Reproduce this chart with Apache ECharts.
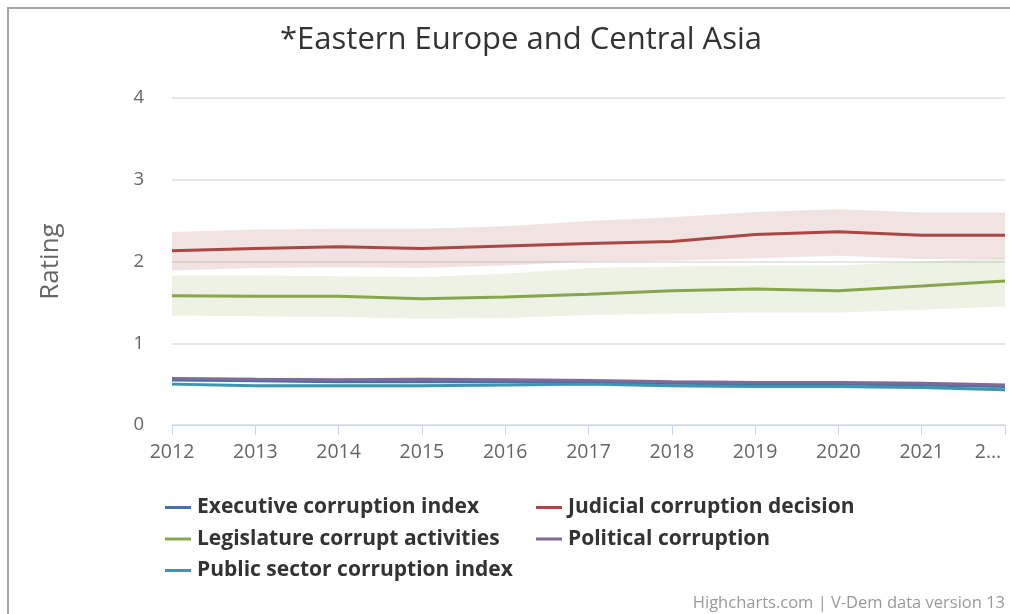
<!DOCTYPE html>
<html>
<head>
<meta charset="utf-8">
<script src="https://cdn.jsdelivr.net/npm/echarts@6/dist/echarts.min.js"></script>
<style>
  html, body { margin: 0; padding: 0; background: #fff; }
  #chart { width: 1010px; height: 614px; }
</style>
</head>
<body>
<div id="chart"></div>
<script>
// Years on the x axis and the labels shown under each tick
const years = ['2012','2013','2014','2015','2016','2017','2018','2019','2020','2021','2022'];
const tickLabels = ['2012','2013','2014','2015','2016','2017','2018','2019','2020','2021','2…'];
const yTicks = [0, 1, 2, 3, 4];

// Regional mean ratings
const executive   = [0.55, 0.54, 0.53, 0.53, 0.53, 0.52, 0.51, 0.50, 0.50, 0.49, 0.47];
const judicial    = [2.13, 2.16, 2.18, 2.16, 2.19, 2.22, 2.245, 2.33, 2.365, 2.32, 2.32];
const legislature = [1.58, 1.575, 1.575, 1.545, 1.566, 1.60, 1.643, 1.664, 1.643, 1.70, 1.76];
const political   = [0.57, 0.56, 0.555, 0.56, 0.555, 0.545, 0.53, 0.52, 0.52, 0.51, 0.49];
const publicSec   = [0.50, 0.48, 0.48, 0.48, 0.49, 0.50, 0.48, 0.47, 0.47, 0.46, 0.43];

// Uncertainty bands (low / high)
const judicialLow  = [1.89, 1.92, 1.93, 1.92, 1.95, 2.00, 2.01, 2.04, 2.07, 2.03, 2.03];
const judicialHigh = [2.36, 2.39, 2.40, 2.40, 2.43, 2.495, 2.54, 2.605, 2.64, 2.60, 2.60];
const legisLow     = [1.34, 1.33, 1.32, 1.30, 1.31, 1.345, 1.365, 1.375, 1.375, 1.41, 1.45];
const legisHigh    = [1.83, 1.83, 1.82, 1.81, 1.85, 1.92, 1.94, 1.95, 1.95, 2.00, 2.05];
const politicalLow  = [0.55, 0.54, 0.535, 0.54, 0.535, 0.525, 0.51, 0.50, 0.50, 0.49, 0.47];
const politicalHigh = [0.59, 0.58, 0.575, 0.58, 0.575, 0.565, 0.55, 0.54, 0.54, 0.53, 0.51];
const publicLow     = [0.48, 0.46, 0.46, 0.46, 0.47, 0.48, 0.46, 0.45, 0.45, 0.44, 0.41];
const publicHigh    = [0.52, 0.50, 0.50, 0.50, 0.51, 0.52, 0.50, 0.49, 0.49, 0.48, 0.45];

const names = {
  exec: 'Executive corruption index',
  jud: 'Judicial corruption decision',
  leg: 'Legislature corrupt activities',
  pol: 'Political corruption',
  pub: 'Public sector corruption index'
};
const colors = {
  exec: '#4572A7', jud: '#AA4643', leg: '#89A54E', pol: '#80699B', pub: '#3D96AE'
};

const FONT = '"Open Sans", "Noto Sans", sans-serif';

function band(key, low, high, rgba) {
  const diff = high.map((h, i) => +(h - low[i]).toFixed(4));
  return [
    {
      name: key + '-low', type: 'line', stack: key + '-band', data: low,
      showSymbol: false, silent: true, lineStyle: { opacity: 0 }, z: 1
    },
    {
      name: key + '-range', type: 'line', stack: key + '-band', data: diff,
      showSymbol: false, silent: true, lineStyle: { opacity: 0 },
      areaStyle: { color: rgba, opacity: 1 }, z: 1
    }
  ];
}

function line(key, data) {
  return {
    name: names[key], type: 'line', data: data, showSymbol: false,
    color: colors[key], lineStyle: { width: 3, color: colors[key] }, z: 3
  };
}

const legendText = { fontFamily: FONT, fontSize: 21, fontWeight: 'bold', color: '#333', padding: [0, 0, 0, 1] };

const chart = echarts.init(document.getElementById('chart'), null, { renderer: 'canvas' });
chart.setOption({
  animation: false,
  backgroundColor: '#fff',
  title: {
    text: '*Eastern Europe and Central Asia',
    left: 516, textAlign: 'center', top: 20,
    textStyle: { fontFamily: FONT, fontSize: 31, fontWeight: 'normal', color: '#333' }
  },
  graphic: [
    {
      type: 'rect', shape: { x: 8, y: 8, width: 1200, height: 800 },
      style: { fill: 'none', stroke: '#a6a6a6', lineWidth: 2 }, silent: true
    },
    {
      type: 'text', right: 5, bottom: 2,
      style: { text: 'Highcharts.com | V-Dem data version 13', fontFamily: FONT, fontSize: 16.5, fill: '#999' }
    }
  ],
  grid: { left: 172, right: 5, top: 98, bottom: 189 },
  xAxis: {
    type: 'category', data: years, boundaryGap: false,
    axisLine: { lineStyle: { color: '#ccd6eb', width: 1 } },
    axisTick: { show: true, length: 10, alignWithLabel: true, lineStyle: { color: '#ccd6eb' } },
    axisLabel: {
      fontFamily: FONT, fontSize: 19.5, color: '#666', margin: 17, interval: 0,
      formatter: (v, i) => i === years.length - 1 ? '{last|' + tickLabels[i] + '}' : tickLabels[i],
      rich: { last: { fontFamily: FONT, fontSize: 19.5, color: '#666', padding: [0, 34, 0, 0] } }
    },
    splitLine: { show: false }
  },
  yAxis: {
    type: 'value', min: yTicks[0], max: yTicks[yTicks.length - 1], interval: 1,
    name: 'Rating', nameLocation: 'middle', nameGap: 108,
    nameTextStyle: { fontFamily: FONT, fontSize: 26, color: '#666' },
    axisLine: { show: false }, axisTick: { show: false },
    axisLabel: { fontFamily: FONT, fontSize: 18.5, color: '#666', margin: 28 },
    splitLine: { lineStyle: { color: '#e6e6e6', width: 2 } }
  },
  legend: [
    {
      left: 160, top: 492, orient: 'vertical', itemGap: 10.5,
      itemWidth: 26, itemHeight: 3, icon: 'rect',
      textStyle: legendText,
      data: [names.exec, names.leg, names.pub]
    },
    {
      left: 531, top: 492, orient: 'vertical', itemGap: 10.5,
      itemWidth: 26, itemHeight: 3, icon: 'rect',
      textStyle: legendText,
      data: [names.jud, names.pol]
    }
  ],
  series: [
    ...band('jud', judicialLow, judicialHigh, 'rgba(170,70,67,0.15)'),
    ...band('leg', legisLow, legisHigh, 'rgba(137,165,78,0.15)'),
    ...band('pol', politicalLow, politicalHigh, 'rgba(128,105,155,0.15)'),
    ...band('pub', publicLow, publicHigh, 'rgba(61,150,174,0.15)'),
    line('exec', executive),
    line('jud', judicial),
    line('leg', legislature),
    line('pol', political),
    line('pub', publicSec)
  ]
});
</script>
</body>
</html>
